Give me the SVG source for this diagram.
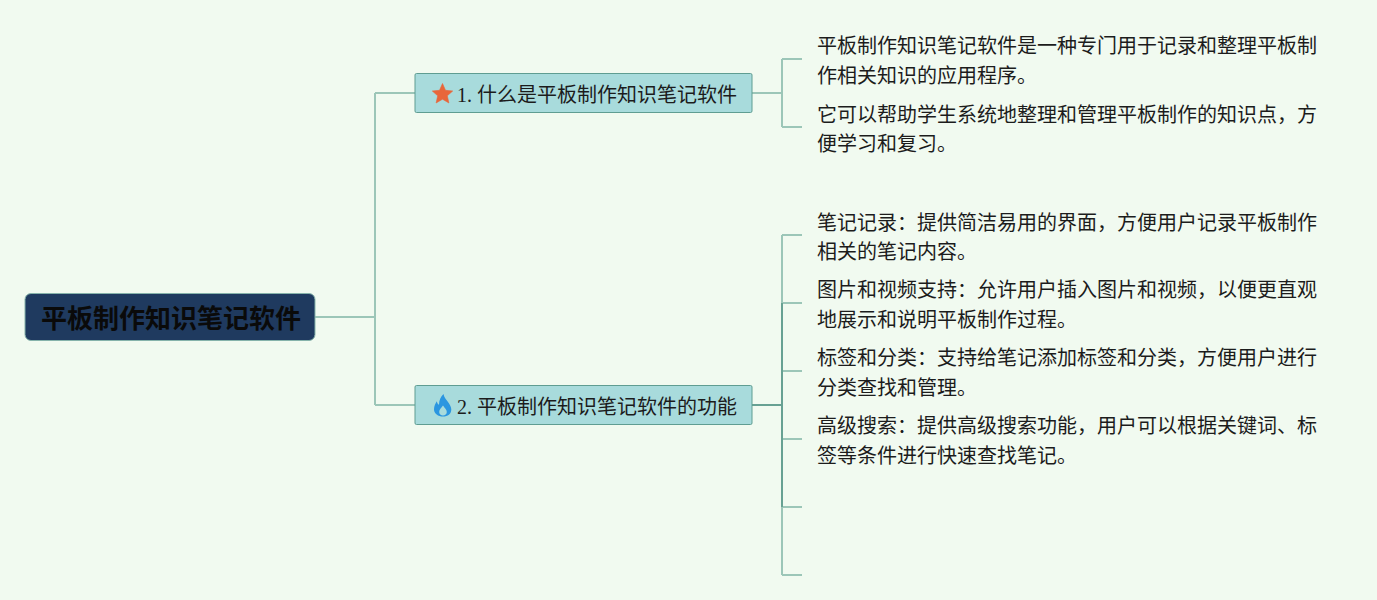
<svg xmlns="http://www.w3.org/2000/svg" width="1377" height="600" viewBox="0 0 1377 600">
<style>
text{font-family:"Noto Sans CJK SC","Liberation Serif",sans-serif;font-size:20px;fill:#1c1c1c}
.root{font-size:26px;font-weight:700;fill:#0a0a0a}
.num{font-family:"Liberation Serif",serif}
.b{fill:#a8dbdc;stroke:#5f9d92;stroke-width:1}
.l{fill:none;stroke:#9cc6b8;stroke-width:2}
.d{fill:none;stroke:#67a193;stroke-width:2}
</style>
<rect width="1377" height="600" fill="#f1faf0"/>
<g id="connectors">
<path class="l" d="M315 317H375M375 93V405M375 93H415M375 405H415"/>
<path class="l" d="M752 93H782M782 59V127M782 59H802M782 127H802"/>
<path class="l" d="M782 235V405M782 235H802M782 303H802M782 371H802M782 439H802M782 507H802M782 575H802M782 507V575"/>
<path class="d" d="M752 405H782M782 303V507"/>
</g>
<g id="root">
<rect x="25" y="293.500" width="290" height="47" rx="6" fill="#1f3a5f" stroke="#86b3ab" stroke-width="1"/>
<text class="root" x="41" y="328">平板制作知识笔记软件</text>
</g>
<g id="branch1">
<rect class="b" x="415" y="73.500" width="337" height="39" rx="1.500"/>
<path d="M442.500 83.500l3 6.800 7.200.7-5.400 4.800 1.600 7.200-6.400-3.800-6.400 3.800 1.600-7.200-5.400-4.800 7.200-.7z" fill="#e8663a" stroke="#e8663a" stroke-width=".6" stroke-linejoin="round"/>
<text x="457" y="102"><tspan class="num">1. </tspan><tspan x="477">什么是平板制作知识笔记软件</tspan></text>
</g>
<g id="branch2">
<rect class="b" x="415" y="385.500" width="337" height="39" rx="1.500"/>
<path d="M443.500 394c.5 3.500 2.500 5 4.500 8 2 3 3.300 5 3.300 7.500 0 4.500-3.500 7-8.300 7s-9-2.700-9-7.300c0-3.400 1.500-5.700 2.800-8 .4 1.800 1 3 2.200 3.600.2-4.500 1.500-8 4.500-10.800zM443 405.500c-1.800 2.300-3.800 4-3.800 6.500 0 2.200 1.700 3.500 3.800 3.500s3.800-1.300 3.800-3.500c0-2.500-2.300-4-3.800-6.500z" fill="#2b96e0" fill-rule="evenodd"/>
<text x="457" y="414"><tspan class="num">2. </tspan><tspan x="477">平板制作知识笔记软件的功能</tspan></text>
</g>
<g id="leaf1"><text x="817" y="53">平板制作知识笔记软件是一种专门用于记录和整理平板制</text><text x="817" y="83">作相关知识的应用程序。</text></g>
<g id="leaf2"><text x="817" y="122">它可以帮助学生系统地整理和管理平板制作的知识点，方</text><text x="817" y="151">便学习和复习。</text></g>
<g id="leaf3"><text x="817" y="230">笔记记录：提供简洁易用的界面，方便用户记录平板制作</text><text x="817" y="259">相关的笔记内容。</text></g>
<g id="leaf4"><text x="817" y="297">图片和视频支持：允许用户插入图片和视频，以便更直观</text><text x="817" y="327">地展示和说明平板制作过程。</text></g>
<g id="leaf5"><text x="817" y="365">标签和分类：支持给笔记添加标签和分类，方便用户进行</text><text x="817" y="395">分类查找和管理。</text></g>
<g id="leaf6"><text x="817" y="433">高级搜索：提供高级搜索功能，用户可以根据关键词、标</text><text x="817" y="463">签等条件进行快速查找笔记。</text></g>
</svg>
